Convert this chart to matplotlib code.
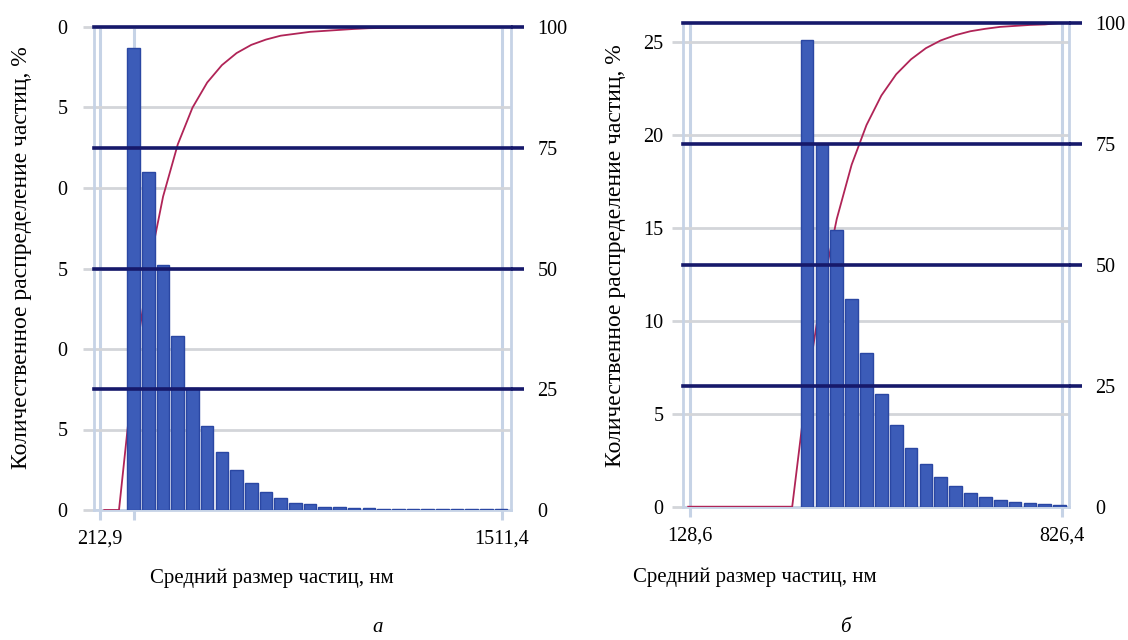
import numpy as np
import matplotlib
matplotlib.use("Agg")
import matplotlib.pyplot as plt

plt.rcParams['font.family'] = ['Liberation Serif', 'DejaVu Serif']

# panel a: bins counted from the first non-empty bin (index 0)
bins_a = np.arange(-2, 26)
share_a = [0, 0, 28.7, 21.0, 15.2, 10.8, 7.6, 5.2, 3.6, 2.5, 1.7, 1.1, 0.75, 0.45,
           0.4, 0.2, 0.2, 0.15, 0.15, 0.05, 0.05, 0.05, 0.05, 0.05, 0.05, 0.05, 0.05, 0.05]
cum_a = [0, 0, 28.7, 49.7, 64.9, 75.7, 83.3, 88.5, 92.1, 94.6, 96.3, 97.4, 98.2, 98.6,
         99.0, 99.2, 99.4, 99.6, 99.75, 99.8, 99.85, 99.9, 99.9, 99.95, 100, 100, 100, 100]
xticks_a = [-2.29, 0, 25.06]
xlabels_a = ['212,9', '', '1511,4']
yticks_a = [0, 5, 10, 15, 20, 25, 30]
ylabels_a = ['0', '5', '0', '5', '0', '5', '0']

# panel b
bins_b = np.arange(-8, 18)
share_b = [0, 0, 0, 0, 0, 0, 0, 0, 25.1, 19.5, 14.9, 11.15, 8.25, 6.08, 4.41, 3.15,
           2.28, 1.58, 1.12, 0.76, 0.50, 0.38, 0.25, 0.18, 0.13, 0.09]
cum_b = [0, 0, 0, 0, 0, 0, 0, 0, 25.1, 44.6, 59.5, 70.7, 78.9, 85.0, 89.4, 92.5,
         94.8, 96.4, 97.5, 98.3, 98.8, 99.2, 99.4, 99.6, 99.7, 100]
xticks_b = [-7.87, 17.14]
xlabels_b = ['128,6', '826,4']
yticks_b = [0, 5, 10, 15, 20, 25]
ylabels_b = ['0', '5', '10', '15', '20', '25']

cum_ticks = [0, 25, 50, 75, 100]

NAVY = '#16196b'
GRAY = '#d3d5d9'
VLINE = '#c6d3e6'
BAR = '#3c5cb8'
BAR_EDGE = '#2a47a3'
RED = '#b02457'

fig = plt.figure(figsize=(11.28, 6.4), dpi=100)


def panel(rect, bins, share, cum, xticks, xlabels, yticks, ylabels, ytop, xlim, width, lpad):
    ax = fig.add_axes(rect)
    ax2 = ax.twinx()
    ax.set_xlim(*xlim)
    ax.set_ylim(0, ytop)
    ax2.set_ylim(0, 100)

    share = np.asarray(share)
    m = share > 0
    ax.bar(bins[m], share[m], width=width, color=BAR, edgecolor=BAR_EDGE,
           linewidth=1.0, zorder=3)
    # cumulative curve sits under the bars but uses the right-hand scale
    ax.plot(bins, cum, color=RED, lw=1.3, zorder=2, transform=ax2.transData)

    ax.set_yticks(yticks)
    ax.set_yticklabels(ylabels)
    ax.set_xticks(xticks)
    ax.set_xticklabels(xlabels)
    ax.grid(axis='y', color=GRAY, lw=2.0, zorder=0)
    ax.grid(axis='x', color=VLINE, lw=2.2, zorder=1)
    ax.set_axisbelow(True)
    ax.tick_params(axis='y', length=8, width=2.0, color=GRAY, pad=lpad, labelsize=14.5)
    ax.tick_params(axis='x', length=7, width=2.2, color=VLINE, pad=7, labelsize=14.5)
    for s in ['left', 'right', 'bottom']:
        ax.spines[s].set_color(VLINE)
        ax.spines[s].set_linewidth(2.0)
        ax.spines[s].set_zorder(1)
    ax.spines['top'].set_visible(False)

    ax2.set_yticks(cum_ticks)
    ax2.grid(axis='y', color=NAVY, lw=2.6)
    for gl in ax2.get_ygridlines():
        gl.set_clip_on(False)
    ax2.get_ygridlines()[0].set_visible(False)
    ax2.tick_params(axis='y', length=9, width=2.6, color=NAVY, pad=10, labelsize=14.5)
    ax2.yaxis.get_major_ticks()[0].tick2line.set_visible(False)
    for s in ax2.spines.values():
        s.set_visible(False)
    return ax


panel([94 / 1128, 130 / 640, 417 / 1128, 483 / 640], bins_a, share_a, cum_a,
      xticks_a, xlabels_a, yticks_a, ylabels_a, 30, (-2.70, 25.67), 0.86, 11)
panel([683 / 1128, 133.3 / 640, 386 / 1128, 483.7 / 640], bins_b, share_b, cum_b,
      xticks_b, xlabels_b, yticks_b, ylabels_b, 26, (-8.35, 17.63), 0.85, 6)

ylab = 'Количественное распределение частиц, %'
xlab = 'Средний размер частиц, нм'
fig.text(22 / 1128, 1 - 258 / 640, ylab, rotation=90, ha='center', va='center', fontsize=17)
fig.text(615 / 1128, 1 - 256 / 640, ylab, rotation=90, ha='center', va='center', fontsize=17)
fig.text(272 / 1128, 1 - 578 / 640, xlab, ha='center', va='center', fontsize=15)
fig.text(755 / 1128, 1 - 577 / 640, xlab, ha='center', va='center', fontsize=15)
fig.text(378 / 1128, 1 - 627 / 640, 'а', ha='center', va='center', fontsize=15, style='italic')
fig.text(845 / 1128, 1 - 627 / 640, 'б', ha='center', va='center', fontsize=15, style='italic')

fig.savefig('out.png', dpi=100)
